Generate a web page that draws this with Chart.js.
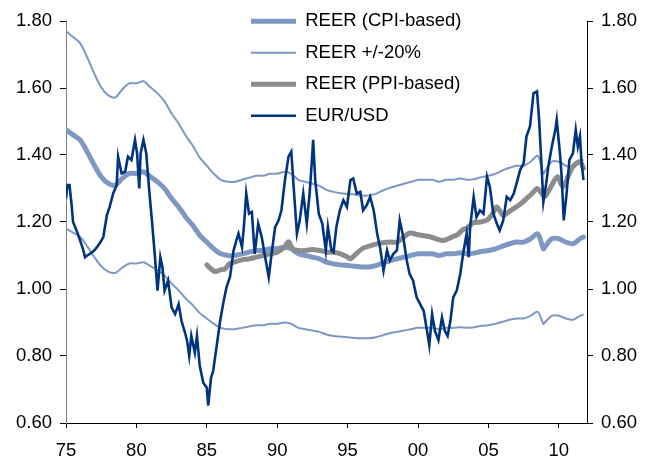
<!DOCTYPE html>
<html>
<head>
<meta charset="utf-8">
<script src="https://cdn.jsdelivr.net/npm/chart.js@4/dist/chart.umd.min.js"></script>
<style>
  html, body { margin: 0; padding: 0; background: #fff; }
  #wrap { width: 652px; height: 458px; }
</style>
</head>
<body>
<div id="wrap"><canvas id="chart" width="652" height="458"></canvas></div>
<script>
// years on the x axis are decimal years, ticks every 5 years
const tickYears = [1975, 1980, 1985, 1990, 1995, 2000, 2005, 2010];
const tickLabels = ["75", "80", "85", "90", "95", "00", "05", "10"];

// REER (CPI-based), read roughly every half year
const cpiYears = [1975, 1975.5, 1976, 1976.5, 1977, 1977.5, 1978, 1978.5, 1979, 1979.5,
  1980, 1980.5, 1981, 1981.5, 1982, 1982.5, 1983, 1983.5, 1984, 1984.5,
  1985, 1985.5, 1986, 1986.5, 1987, 1987.5, 1988, 1988.5, 1989, 1989.5,
  1990, 1990.5, 1991, 1991.5, 1992, 1992.5, 1993, 1993.5, 1994, 1994.5,
  1995, 1995.5, 1996, 1996.5, 1997, 1997.5, 1998, 1998.5, 1999, 1999.5,
  2000, 2000.5, 2001, 2001.5, 2002, 2002.5, 2003, 2003.5, 2004, 2004.5,
  2005, 2005.5, 2006, 2006.5, 2007, 2007.5, 2008, 2008.5, 2008.9, 2009,
  2009.5, 2010, 2010.5, 2011, 2011.5, 2011.75];
const cpiReer = [1.475, 1.46, 1.445, 1.41, 1.37, 1.335, 1.315, 1.31, 1.33, 1.345,
  1.345, 1.35, 1.335, 1.32, 1.30, 1.27, 1.245, 1.215, 1.19, 1.16,
  1.14, 1.12, 1.105, 1.10, 1.10, 1.105, 1.11, 1.115, 1.115, 1.12,
  1.12, 1.125, 1.12, 1.105, 1.10, 1.095, 1.09, 1.08, 1.075, 1.072,
  1.07, 1.068, 1.066, 1.066, 1.07, 1.078, 1.085, 1.09, 1.095, 1.10,
  1.105, 1.105, 1.105, 1.10, 1.105, 1.105, 1.108, 1.105, 1.107, 1.112,
  1.115, 1.12, 1.128, 1.135, 1.14, 1.14, 1.15, 1.165, 1.12, 1.125,
  1.15, 1.15, 1.14, 1.135, 1.15, 1.155];

// REER +/-20% bands, same dates as the CPI line
const bandUpper = [1.77, 1.752, 1.734, 1.692, 1.644, 1.602, 1.578, 1.572, 1.596, 1.614,
  1.614, 1.62, 1.602, 1.584, 1.56, 1.524, 1.494, 1.458, 1.428, 1.392,
  1.368, 1.344, 1.326, 1.32, 1.32, 1.326, 1.332, 1.338, 1.338, 1.344,
  1.344, 1.35, 1.344, 1.326, 1.32, 1.314, 1.308, 1.296, 1.29, 1.286,
  1.284, 1.282, 1.279, 1.279, 1.284, 1.294, 1.302, 1.308, 1.314, 1.32,
  1.326, 1.326, 1.326, 1.32, 1.326, 1.326, 1.33, 1.326, 1.328, 1.334,
  1.338, 1.344, 1.354, 1.362, 1.368, 1.368, 1.38, 1.398, 1.344, 1.35,
  1.38, 1.38, 1.368, 1.362, 1.38, 1.386];
const bandLower = [1.18, 1.168, 1.156, 1.128, 1.096, 1.068, 1.052, 1.048, 1.064, 1.076,
  1.076, 1.08, 1.068, 1.056, 1.04, 1.016, 0.996, 0.972, 0.952, 0.928,
  0.912, 0.896, 0.884, 0.88, 0.88, 0.884, 0.888, 0.892, 0.892, 0.896,
  0.896, 0.90, 0.896, 0.884, 0.88, 0.876, 0.872, 0.864, 0.86, 0.858,
  0.856, 0.854, 0.853, 0.853, 0.856, 0.862, 0.868, 0.872, 0.876, 0.88,
  0.884, 0.884, 0.884, 0.88, 0.884, 0.884, 0.886, 0.884, 0.886, 0.89,
  0.892, 0.896, 0.902, 0.908, 0.912, 0.912, 0.92, 0.932, 0.896, 0.90,
  0.92, 0.92, 0.912, 0.908, 0.92, 0.924];

// REER (PPI-based), starts in 1985
const ppiYears = [1985, 1985.3, 1985.6, 1986, 1986.3, 1986.6, 1987, 1987.5, 1988, 1988.5,
  1989, 1989.5, 1990, 1990.5, 1990.8, 1991.1, 1991.5, 1992, 1992.5, 1993,
  1993.6, 1994, 1994.5, 1995, 1995.2, 1995.6, 1996.1, 1996.7, 1997.3, 1998,
  1998.5, 1999, 1999.4, 2000, 2000.85, 2001.4, 2001.8, 2002.4, 2002.8, 2003.2,
  2003.5, 2003.9, 2004.4, 2004.9, 2005.3, 2005.6, 2006.05, 2006.5, 2007, 2007.4,
  2007.7, 2008.1, 2008.45, 2008.7, 2009, 2009.5, 2009.9, 2010.3, 2010.7, 2011,
  2011.5, 2011.75];
const ppiReer = [1.072, 1.06, 1.052, 1.058, 1.06, 1.075, 1.081, 1.087, 1.09, 1.095,
  1.10, 1.105, 1.11, 1.125, 1.141, 1.12, 1.115, 1.115, 1.118, 1.115,
  1.11, 1.11, 1.105, 1.095, 1.09, 1.105, 1.122, 1.13, 1.137, 1.14,
  1.14, 1.155, 1.167, 1.162, 1.156, 1.148, 1.145, 1.155, 1.162, 1.178,
  1.182, 1.197, 1.20, 1.206, 1.225, 1.245, 1.22, 1.232, 1.246, 1.258,
  1.27, 1.285, 1.30, 1.29, 1.276, 1.31, 1.335, 1.305, 1.34, 1.365,
  1.38, 1.36];

// EUR/USD (synthetic before 1999)
const fxYears = [1975, 1975.1, 1975.25, 1975.4, 1975.5, 1975.75, 1976, 1976.2, 1976.35, 1976.5,
  1976.7, 1977, 1977.2, 1977.45, 1977.65, 1977.9, 1978.1, 1978.35, 1978.6, 1978.7,
  1978.95, 1979.2, 1979.4, 1979.65, 1979.9, 1980.05, 1980.2, 1980.3, 1980.5, 1980.7,
  1980.85, 1980.95, 1981.1, 1981.3, 1981.5, 1981.7, 1981.85, 1982, 1982.25, 1982.5,
  1982.75, 1983, 1983.2, 1983.45, 1983.6, 1983.75, 1983.9, 1984.15, 1984.3, 1984.5,
  1984.75, 1985, 1985.1, 1985.3, 1985.45, 1985.7, 1985.95, 1986.2, 1986.4, 1986.65,
  1986.9, 1987.1, 1987.25, 1987.5, 1987.65, 1987.8, 1988, 1988.2, 1988.4, 1988.65,
  1988.9, 1989.1, 1989.4, 1989.6, 1989.85, 1990.1, 1990.3, 1990.55, 1990.8, 1991,
  1991.2, 1991.4, 1991.6, 1991.85, 1992.1, 1992.3, 1992.45, 1992.55, 1992.7, 1992.95,
  1993.2, 1993.45, 1993.6, 1993.85, 1994, 1994.2, 1994.45, 1994.7, 1994.95, 1995.2,
  1995.4, 1995.65, 1995.9, 1996.1, 1996.35, 1996.6, 1996.85, 1997.1, 1997.3, 1997.55,
  1997.8, 1998, 1998.25, 1998.5, 1998.7, 1998.95, 1999.2, 1999.4, 1999.65, 1999.9,
  2000.15, 2000.4, 2000.6, 2000.8, 2001, 2001.2, 2001.45, 2001.7, 2001.9, 2002.1,
  2002.3, 2002.5, 2002.75, 2003, 2003.2, 2003.45, 2003.6, 2003.7, 2003.95, 2004.15,
  2004.4, 2004.65, 2004.9, 2005.1, 2005.35, 2005.6, 2005.8, 2006.05, 2006.3, 2006.55,
  2006.8, 2007, 2007.25, 2007.5, 2007.7, 2007.95, 2008.2, 2008.45, 2008.6, 2008.75,
  2008.9, 2009.1, 2009.25, 2009.5, 2009.75, 2009.85, 2010.1, 2010.2, 2010.35, 2010.55,
  2010.75, 2011, 2011.2, 2011.35, 2011.5, 2011.6, 2011.75];
const eurUsd = [1.27, 1.31, 1.31, 1.25, 1.20, 1.175, 1.145, 1.12, 1.095, 1.10,
  1.105, 1.115, 1.125, 1.14, 1.155, 1.22, 1.245, 1.285, 1.31, 1.395,
  1.345, 1.35, 1.395, 1.385, 1.445, 1.405, 1.30, 1.405, 1.445, 1.405,
  1.325, 1.275, 1.205, 1.105, 0.995, 1.095, 1.065, 0.995, 1.025, 0.945,
  0.925, 0.955, 0.905, 0.87, 0.845, 0.80, 0.86, 0.81, 0.86, 0.77,
  0.72, 0.705, 0.652, 0.735, 0.755, 0.83, 0.905, 0.965, 1.005, 1.037,
  1.115, 1.145, 1.165, 1.125, 1.195, 1.285, 1.225, 1.23, 1.105, 1.195,
  1.155, 1.105, 1.035, 1.105, 1.185, 1.205, 1.235, 1.325, 1.395, 1.41,
  1.285, 1.165, 1.205, 1.285, 1.195, 1.285, 1.375, 1.445, 1.325, 1.225,
  1.195, 1.115, 1.185, 1.115, 1.11, 1.185, 1.235, 1.265, 1.245, 1.325,
  1.33, 1.285, 1.29, 1.235, 1.25, 1.275, 1.235, 1.165, 1.125, 1.055,
  1.115, 1.085, 1.105, 1.115, 1.205, 1.155, 1.085, 1.045, 1.025, 0.975,
  0.955, 0.935, 0.885, 0.832, 0.925, 0.875, 0.848, 0.915, 0.875, 0.86,
  0.905, 0.975, 0.995, 1.045, 1.105, 1.165, 1.095, 1.185, 1.275, 1.215,
  1.235, 1.225, 1.335, 1.305, 1.225, 1.195, 1.175, 1.205, 1.275, 1.265,
  1.285, 1.315, 1.355, 1.375, 1.455, 1.485, 1.584, 1.59, 1.505, 1.385,
  1.26, 1.315, 1.365, 1.425, 1.475, 1.505, 1.395, 1.335, 1.205, 1.285,
  1.385, 1.405, 1.475, 1.425, 1.455, 1.385, 1.325];

const lightBlue = "#7f98c3";
const navy = "#00347f";
const grey = "#8c8c8c";
const fontFamily = "'Liberation Sans', Arial, Helvetica, sans-serif";

function pairs(xs, ys) {
  return xs.map((x, i) => ({ x: x, y: ys[i] }));
}

// moves the legend block into the plot, left edge of the lines at ~251px
const legendPlacer = {
  id: "legendPlacer",
  afterLayout(chart) {
    chart.legend.left = 238;
    chart.legend.top = -1;
  }
};

new Chart(document.getElementById("chart"), {
  type: "line",
  data: {
    datasets: [
      {
        label: "REER (CPI-based)",
        data: pairs(cpiYears, cpiReer),
        borderColor: lightBlue,
        borderWidth: 5,
        borderCapStyle: "round",
        tension: 0.3,
        order: 4
      },
      {
        label: "REER +/-20%",
        data: pairs(cpiYears, bandUpper),
        borderColor: lightBlue,
        borderWidth: 2,
        tension: 0.3,
        order: 3
      },
      {
        label: "REER (PPI-based)",
        data: pairs(ppiYears, ppiReer),
        borderColor: grey,
        borderWidth: 5,
        borderCapStyle: "round",
        tension: 0.3,
        order: 2
      },
      {
        label: "EUR/USD",
        data: pairs(fxYears, eurUsd),
        borderColor: navy,
        borderWidth: 2.6,
        tension: 0,
        order: 1
      },
      {
        label: "REER -20%",
        data: pairs(cpiYears, bandLower),
        borderColor: lightBlue,
        borderWidth: 2,
        tension: 0.3,
        order: 3
      }
    ]
  },
  options: {
    responsive: false,
    animation: false,
    events: [],
    elements: { point: { radius: 0 } },
    layout: { padding: { top: 21, left: 0, right: 0, bottom: 0 } },
    plugins: {
      tooltip: { enabled: false },
      legend: {
        position: "chartArea",
        align: "start",
        labels: {
          usePointStyle: true,
          pointStyle: "line",
          pointStyleWidth: 45,
          boxWidth: 45,
          boxHeight: 18,
          padding: 13,
          color: "#000",
          font: { family: fontFamily, size: 18.5 },
          filter: (item) => item.text !== "REER -20%",
          sort: (a, b) => a.datasetIndex - b.datasetIndex
        }
      }
    },
    scales: {
      x: {
        type: "linear",
        min: 1975,
        max: 2012,
        afterBuildTicks: (scale) => {
          scale.ticks = tickYears.map((v) => ({ value: v }));
        },
        afterFit: (scale) => { scale.height = 35; },
        grid: { drawOnChartArea: false, tickLength: 5, color: "#000" },
        border: { color: "#000", width: 1 },
        ticks: {
          padding: 12,
          maxRotation: 0,
          color: "#000",
          font: { family: fontFamily, size: 18.5 },
          callback: (v) => tickLabels[tickYears.indexOf(v)]
        }
      },
      y: {
        position: "left",
        min: 0.6,
        max: 1.8,
        afterFit: (scale) => { scale.width = 66; },
        grid: { drawOnChartArea: false, tickLength: 6, color: "#000" },
        border: { color: "#808080", width: 1 },
        ticks: {
          stepSize: 0.2,
          padding: 8,
          color: "#000",
          font: { family: fontFamily, size: 18.5 },
          callback: (v) => v.toFixed(2)
        }
      },
      y2: {
        position: "right",
        min: 0.6,
        max: 1.8,
        afterFit: (scale) => { scale.width = 65; },
        grid: { drawOnChartArea: false, tickLength: 6, color: "#000" },
        border: { color: "#000", width: 1 },
        ticks: {
          stepSize: 0.2,
          padding: 8,
          color: "#000",
          font: { family: fontFamily, size: 18.5 },
          callback: (v) => v.toFixed(2)
        }
      }
    }
  },
  plugins: [legendPlacer]
});
</script>
</body>
</html>
